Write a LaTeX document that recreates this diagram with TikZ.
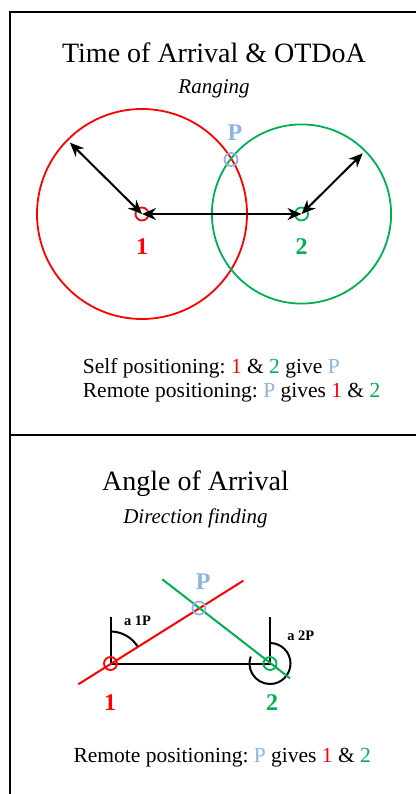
\documentclass[tikz,border=0pt]{standalone}
\usepackage{fontspec}
\setmainfont{Liberation Serif}
\usetikzlibrary{arrows.meta}
\frenchspacing
\definecolor{siteone}{HTML}{FF0000}
\definecolor{sitetwo}{HTML}{00B050}
\definecolor{pointp}{HTML}{8EB4E3}
\tikzset{
  frameline/.style={line width=2.2pt,draw=black},
  rangecircle/.style={line width=1.8pt},
  sitemark/.style={circle,draw,line width=1.8pt,minimum size=13pt,inner sep=0pt},
  rangearrow/.style={{Stealth[length=14pt,width=12pt]}-{Stealth[length=14pt,width=12pt]},
    line width=2pt,draw=black},
  bearing/.style={line width=2pt},
  titletext/.style={anchor=base,inner sep=0pt,font=\fontsize{28}{32}\selectfont},
  subtitletext/.style={anchor=base,inner sep=0pt,font=\itshape\fontsize{21}{24}\selectfont},
  bodytext/.style={anchor=base west,inner sep=0pt,font=\fontsize{21.5}{24}\selectfont},
  sitelabel/.style={anchor=base,inner sep=0pt,font=\bfseries\fontsize{24}{27}\selectfont},
  anglelabel/.style={anchor=base,inner sep=0pt,font=\bfseries\fontsize{14.5}{16}\selectfont}
}

\begin{document}
\begin{tikzpicture}[x=1pt,y=-1pt]
\path[use as bounding box] (0,0) rectangle (416,794);
\draw[frameline] (416,12) -- (10,12) -- (10,794);
\draw[frameline] (10,435) -- (416,435);

% Time of arrival: two ranging circles meet at P
\node[titletext] (toatitle) at (214,62.7) {Time of Arrival \& OTDoA};
\node[subtitletext] (toasub) at (214,94) {Ranging};
\coordinate (c1) at (142,214);
\coordinate (c2) at (301.5,214);
\coordinate (r1) at (70,142.7);
\coordinate (r2) at (362.7,153.3);
\draw[rangecircle,siteone] (c1) circle[radius=105pt];
\draw[rangecircle,sitetwo] (c2) circle[radius=89.6pt];
\node[sitemark,draw=siteone] (s1) at (c1) {};
\node[sitemark,draw=sitetwo] (s2) at (c2) {};
\node[sitemark,draw=pointp] (sp) at (231,159.5) {};
\draw[rangearrow] (r1) -- (s1.center);
\draw[rangearrow] (s2.center) -- (r2);
\draw[rangearrow] (s1.center) -- (s2.center);
\node[sitelabel,text=siteone] (l1) at (142,254) {1};
\node[sitelabel,text=sitetwo] (l2) at (301.5,254) {2};
\node[sitelabel,text=pointp] (lp) at (235,140.7) {P};
\node[bodytext] (toaself) at (82.7,373.3)
  {Self positioning: \textcolor{siteone}{1} \& \textcolor{sitetwo}{2} give \textcolor{pointp}{P}};
\node[bodytext] (toaremote) at (82.7,397.3)
  {Remote positioning: \textcolor{pointp}{P} gives \textcolor{siteone}{1} \& \textcolor{sitetwo}{2}};

% Angle of arrival: bearings from north at each site
\node[titletext] (aoatitle) at (195.5,490) {Angle of Arrival};
\node[subtitletext] (aoasub) at (195.5,523) {Direction finding};
\coordinate (a1) at (110.5,663.5);
\coordinate (a2) at (270,663.5);
\coordinate (n1) at (110.5,616.7);
\coordinate (n2) at (270,616.7);
\coordinate (b1) at (78.3,684.3);
\coordinate (f1) at (243.3,580.7);
\coordinate (f2) at (162.3,579.3);
\coordinate (b2) at (290,678.3);
\draw[bearing] (n1) -- (a1) -- (a2) -- (n2);
\draw[bearing] (a1) ++(0pt,32pt) arc[start angle=90,end angle=32,radius=32pt];
\draw[bearing] (a2) ++(0pt,20.5pt) arc[start angle=90,end angle=-200,radius=20.5pt];
\draw[bearing,siteone] (b1) -- (f1);
\draw[bearing,sitetwo] (f2) -- (b2);
\node[sitemark,draw=siteone] (t1) at (a1) {};
\node[sitemark,draw=sitetwo] (t2) at (a2) {};
\node[sitemark,draw=pointp] (tp) at (199,608) {};
\node[anglelabel] (ang1) at (137.5,625.7) {a 1P};
\node[anglelabel] (ang2) at (300.8,640) {a 2P};
\node[sitelabel,text=siteone] (m1) at (110,710) {1};
\node[sitelabel,text=sitetwo] (m2) at (272,710) {2};
\node[sitelabel,text=pointp] (mp) at (203.3,589.3) {P};
\node[bodytext] (aoaremote) at (73.3,762.3)
  {Remote positioning: \textcolor{pointp}{P} gives \textcolor{siteone}{1} \& \textcolor{sitetwo}{2}};
\end{tikzpicture}
\end{document}
